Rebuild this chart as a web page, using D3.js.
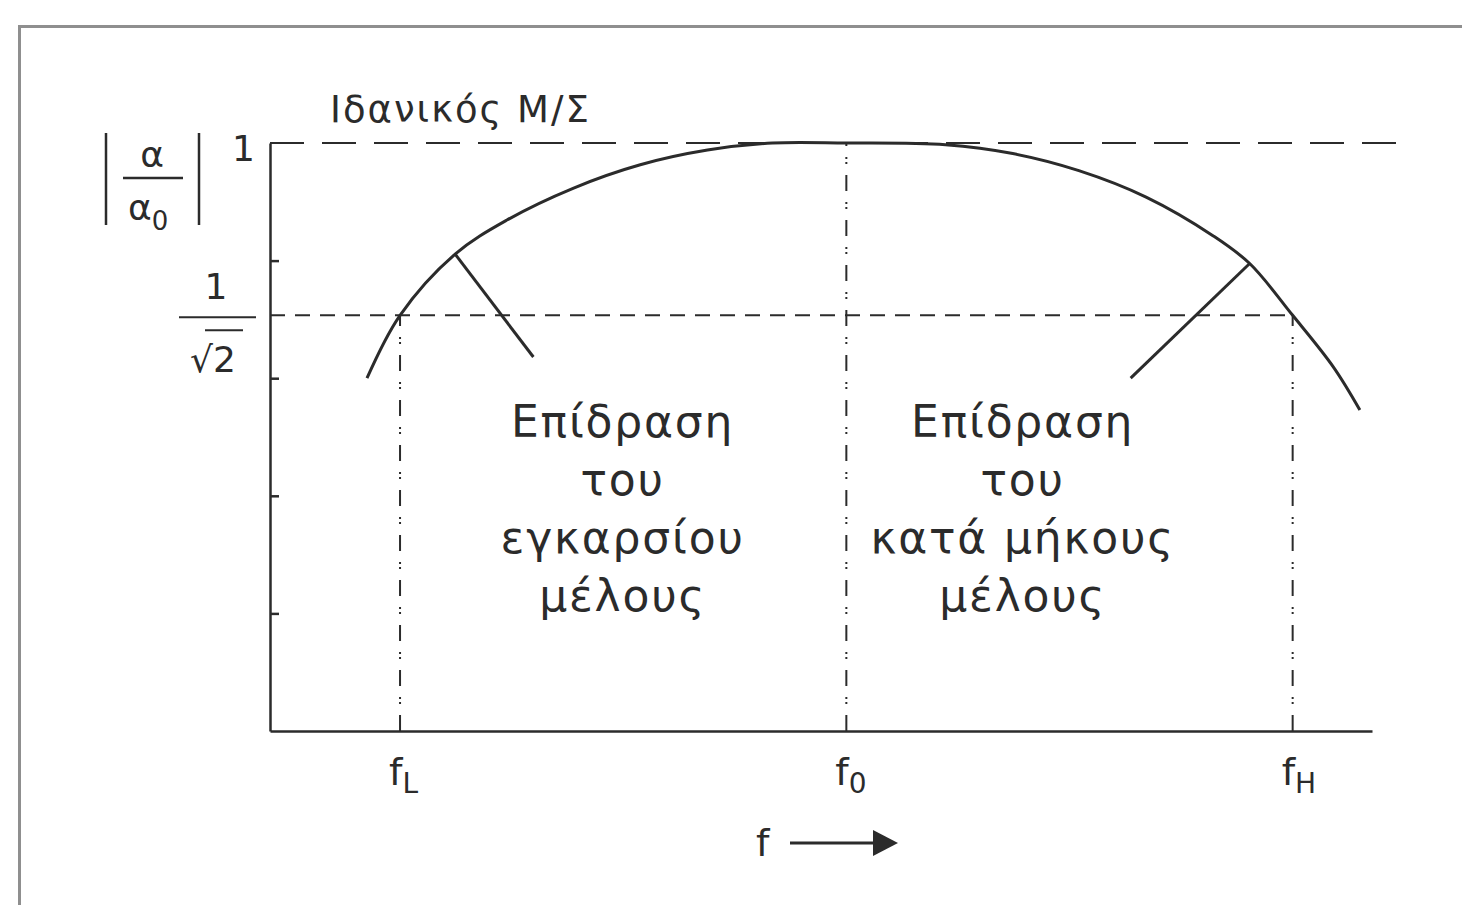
<!DOCTYPE html>
<html>
<head>
<meta charset="utf-8">
<script src="https://cdn.jsdelivr.net/npm/d3@7"></script>
<style>
  html, body { margin: 0; padding: 0; background: #fff; }
  svg { display: block; }
  text { font-family: "DejaVu Sans", "Liberation Sans", Arial, sans-serif; fill: #2b2b2b; }
</style>
</head>
<body>
<svg id="chart" width="1462" height="905"></svg>
<script>
// Normalised frequency (0–100 across the axis) and relative gain |α/α0|
const freq = [8.8, 11.8, 16.8, 21.5, 27.5, 33.6, 39.7, 45.6, 52.3, 61.3, 67.4, 73.4, 79.5, 85.6, 88.9, 92.8, 96.5, 98.9];
const gain = [0.600, 0.707, 0.811, 0.869, 0.923, 0.963, 0.988, 1.0, 1.0, 0.997, 0.982, 0.953, 0.908, 0.842, 0.795, 0.707, 0.619, 0.546];

// Characteristic frequencies
const markFreq = [11.8, 52.3, 92.8];
const markSub = ["L", "0", "H"];
const markTop = [Math.SQRT1_2, 1, Math.SQRT1_2];

// Minor ticks on the gain axis
const gainTicks = [0.2, 0.4, 0.6, 0.8];

// Pointer lines from the curve to the annotations: [f1, g1, f2, g2]
const pointers = [
  [16.8, 0.811, 23.9, 0.636],
  [88.9, 0.795, 78.1, 0.600]
];

// Annotation blocks
const noteLines = [
  ["Επίδραση", "του", "εγκαρσίου", "μέλους"],
  ["Επίδραση", "του", "κατά μήκους", "μέλους"]
];
const noteCenterFreq = [32.0, 68.3];

const svg = d3.select("#chart");
const ink = "#2b2b2b";

// Page frame
svg.append("rect")
  .attr("x", 19.5).attr("y", 26.5)
  .attr("width", 1500).attr("height", 1000)
  .attr("fill", "none").attr("stroke", "#8f8f8f").attr("stroke-width", 3);

const mLeft = 270, mTop = 143, plotW = 1102, plotH = 588;
const x = d3.scaleLinear().domain([0, 100]).range([mLeft, mLeft + plotW]);
const y = d3.scaleLinear().domain([0, 1]).range([mTop + plotH, mTop]);

// Reference lines: ideal gain and half-power level
svg.append("line")
  .attr("x1", x(0)).attr("x2", x(103))
  .attr("y1", y(1)).attr("y2", y(1))
  .attr("stroke", ink).attr("stroke-width", 2)
  .attr("stroke-dasharray", "34 18");

svg.append("line")
  .attr("x1", x(0)).attr("x2", x(markFreq[2]))
  .attr("y1", y(Math.SQRT1_2)).attr("y2", y(Math.SQRT1_2))
  .attr("stroke", ink).attr("stroke-width", 2)
  .attr("stroke-dasharray", "15 10");

// Dash-dot verticals at fL, f0, fH
svg.selectAll("line.mark")
  .data(markFreq)
  .join("line")
  .attr("class", "mark")
  .attr("x1", d => x(d)).attr("x2", d => x(d))
  .attr("y1", y(0)).attr("y2", (d, i) => y(markTop[i]))
  .attr("stroke", ink).attr("stroke-width", 2)
  .attr("stroke-dasharray", "16 11 2 3 2 11");

// Axes
const yAxis = d3.axisRight(y).tickValues(gainTicks).tickSize(9).tickSizeOuter(0).tickFormat("");
const yg = svg.append("g").attr("transform", `translate(${mLeft},0)`).call(yAxis);
yg.selectAll("path, line").attr("stroke", ink).attr("stroke-width", 2.5);

const xAxis = d3.axisBottom(x).tickValues([]).tickSizeOuter(0);
const xg = svg.append("g").attr("transform", `translate(0,${mTop + plotH})`).call(xAxis);
xg.selectAll("path").attr("stroke", ink).attr("stroke-width", 2.5);

// Frequency response curve
const line = d3.line()
  .x((d, i) => x(freq[i]))
  .y(d => y(d))
  .curve(d3.curveCatmullRom.alpha(0.5));
svg.append("path")
  .datum(gain)
  .attr("d", line)
  .attr("fill", "none").attr("stroke", ink).attr("stroke-width", 3);

// Pointer lines
svg.selectAll("line.pointer")
  .data(pointers)
  .join("line")
  .attr("class", "pointer")
  .attr("x1", d => x(d[0])).attr("y1", d => y(d[1]))
  .attr("x2", d => x(d[2])).attr("y2", d => y(d[3]))
  .attr("stroke", ink).attr("stroke-width", 3);

// Frequency labels with subscripts
const fl = svg.selectAll("text.flabel")
  .data(markFreq)
  .join("text")
  .attr("class", "flabel")
  .attr("x", d => x(d) - 11)
  .attr("y", 785)
  .attr("font-size", 38);
fl.append("tspan").text("f");
fl.append("tspan").attr("dy", 8).attr("font-size", 28).text((d, i) => markSub[i]);

// Axis direction label: f →
svg.append("text").attr("x", 756).attr("y", 856).attr("font-size", 38).text("f");
svg.append("line")
  .attr("x1", 790).attr("x2", 878).attr("y1", 843).attr("y2", 843)
  .attr("stroke", ink).attr("stroke-width", 3);
svg.append("path")
  .attr("d", "M873,830 L898,843 L873,856 Z")
  .attr("fill", ink);

// Gain axis labels
svg.append("text").attr("x", 232).attr("y", y(1) + 18).attr("font-size", 36).text("1");

// 1/√2
const halfY = y(Math.SQRT1_2);
svg.append("text").attr("x", 216).attr("y", halfY - 16).attr("font-size", 36).attr("text-anchor", "middle").text("1");
svg.append("line").attr("x1", 179).attr("x2", 256).attr("y1", halfY + 2).attr("y2", halfY + 2)
  .attr("stroke", ink).attr("stroke-width", 2);
svg.append("text").attr("x", 213).attr("y", halfY + 57).attr("font-size", 36).attr("text-anchor", "middle").text("√2");
svg.append("line").attr("x1", 205).attr("x2", 243).attr("y1", halfY + 15).attr("y2", halfY + 15)
  .attr("stroke", ink).attr("stroke-width", 2);

// |α / α0|
svg.append("line").attr("x1", 106).attr("x2", 106).attr("y1", 133).attr("y2", 225).attr("stroke", ink).attr("stroke-width", 2.5);
svg.append("line").attr("x1", 199).attr("x2", 199).attr("y1", 133).attr("y2", 225).attr("stroke", ink).attr("stroke-width", 2.5);
svg.append("line").attr("x1", 123).attr("x2", 183).attr("y1", 178).attr("y2", 178).attr("stroke", ink).attr("stroke-width", 2.5);
svg.append("text").attr("x", 152).attr("y", 167).attr("font-size", 36).attr("text-anchor", "middle").text("α");
const a0 = svg.append("text").attr("x", 128).attr("y", 220).attr("font-size", 36);
a0.append("tspan").text("α");
a0.append("tspan").attr("dy", 10).attr("font-size", 26).text("0");

// Ideal amplifier caption
svg.append("text").attr("x", 330).attr("y", 122).attr("font-size", 37)
  .attr("letter-spacing", 2).text("Ιδανικός Μ/Σ");

// Annotation blocks
noteLines.forEach((lines, k) => {
  svg.append("g").selectAll("text")
    .data(lines)
    .join("text")
    .attr("x", x(noteCenterFreq[k]))
    .attr("y", (d, i) => 437 + i * 58)
    .attr("text-anchor", "middle")
    .attr("font-size", 44)
    .attr("letter-spacing", 1.8)
    .text(d => d);
});
</script>
</body>
</html>
